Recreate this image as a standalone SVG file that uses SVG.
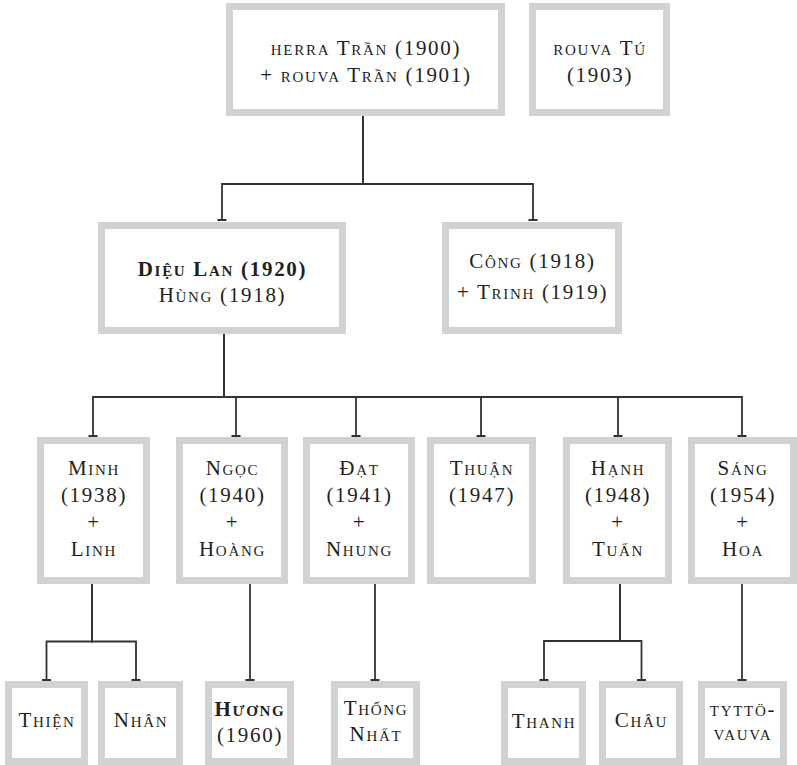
<svg xmlns="http://www.w3.org/2000/svg" width="797" height="765" viewBox="0 0 797 765">
<defs>
<style>
.box{fill:#ffffff;stroke:#d1d2d4;stroke-width:7}
.t{font-family:"Liberation Serif","DejaVu Serif",serif;font-size:21px;font-variant:small-caps;fill:#231f20;text-anchor:middle;letter-spacing:1.7px}
.b{font-weight:bold}
.c{fill:none;stroke:#333333;stroke-width:1.8;marker-end:url(#tee)}
</style>
<marker id="tee" markerUnits="userSpaceOnUse" markerWidth="12" markerHeight="12" viewBox="-6 -6 12 12" refX="0" refY="0" orient="auto" overflow="visible">
<path d="M0,-4.5 V4.5" stroke="#333333" stroke-width="2" fill="none"/>
</marker>
</defs>
<rect width="797" height="765" fill="#ffffff"/>
<g id="connectors">
<path class="c" d="M363,116 V184 H222 V220"/>
<path class="c" d="M363,116 V184 H533 V220"/>
<path class="c" d="M224,334 V397 H93 V436"/>
<path class="c" d="M224,334 V397 H236 V436"/>
<path class="c" d="M224,334 V397 H356 V436"/>
<path class="c" d="M224,334 V397 H481 V436"/>
<path class="c" d="M224,334 V397 H618 V436"/>
<path class="c" d="M224,334 V397 H742 V436"/>
<path class="c" d="M92,584 V641.5 H46.5 V680"/>
<path class="c" d="M92,584 V641.5 H136 V680"/>
<path class="c" d="M250,584 V680"/>
<path class="c" d="M375,584 V680"/>
<path class="c" d="M620,584 V641 H544 V680"/>
<path class="c" d="M620,584 V641 H641.5 V680"/>
<path class="c" d="M742,584 V680"/>
</g>
<g id="n-tran">
<rect class="box" x="229.5" y="6.5" width="272" height="106"/>
<text class="t" x="366" y="55">herra Trần (1900)</text>
<text class="t" x="366" y="82">+ rouva Trần (1901)</text>
</g>
<g id="n-tu">
<rect class="box" x="532.5" y="6.5" width="134" height="106"/>
<text class="t" x="600" y="55">rouva Tú</text>
<text class="t" x="600" y="82">(1903)</text>
</g>
<g id="n-dieulan">
<rect class="box" x="101.5" y="225.5" width="241" height="105"/>
<text class="t b" x="222.5" y="276">Diệu Lan (1920)</text>
<text class="t" x="222.5" y="302">Hùng (1918)</text>
</g>
<g id="n-cong">
<rect class="box" x="445.5" y="225.5" width="173" height="105"/>
<text class="t" x="532.5" y="268">Công (1918)</text>
<text class="t" x="532.5" y="299">+ Trinh (1919)</text>
</g>
<g id="n-minh">
<rect class="box" x="40.5" y="440.5" width="106" height="140"/>
<text class="t" x="94" y="475">Minh</text>
<text class="t" x="94" y="502">(1938)</text>
<text class="t" x="94" y="529">+</text>
<text class="t" x="94" y="556">Linh</text>
</g>
<g id="n-ngoc">
<rect class="box" x="179.5" y="440.5" width="105" height="140"/>
<text class="t" x="232.5" y="475">Ngọc</text>
<text class="t" x="232.5" y="502">(1940)</text>
<text class="t" x="232.5" y="529">+</text>
<text class="t" x="232.5" y="556">Hoàng</text>
</g>
<g id="n-dat">
<rect class="box" x="306.5" y="440.5" width="105" height="140"/>
<text class="t" x="359.5" y="475">Đạt</text>
<text class="t" x="359.5" y="502">(1941)</text>
<text class="t" x="359.5" y="529">+</text>
<text class="t" x="359.5" y="556">Nhung</text>
</g>
<g id="n-thuan">
<rect class="box" x="430.5" y="440.5" width="102" height="140"/>
<text class="t" x="482" y="475">Thuận</text>
<text class="t" x="482" y="502">(1947)</text>
</g>
<g id="n-hanh">
<rect class="box" x="566.5" y="440.5" width="102" height="140"/>
<text class="t" x="618" y="475">Hạnh</text>
<text class="t" x="618" y="502">(1948)</text>
<text class="t" x="618" y="529">+</text>
<text class="t" x="618" y="556">Tuấn</text>
</g>
<g id="n-sang">
<rect class="box" x="691.5" y="440.5" width="102" height="140"/>
<text class="t" x="743" y="475">Sáng</text>
<text class="t" x="743" y="502">(1954)</text>
<text class="t" x="743" y="529">+</text>
<text class="t" x="743" y="556">Hoa</text>
</g>
<g id="n-thien">
<rect class="box" x="8.5" y="684.5" width="76" height="77"/>
<text class="t" x="47" y="727">Thiện</text>
</g>
<g id="n-nhan">
<rect class="box" x="101.5" y="684.5" width="78" height="77"/>
<text class="t" x="141" y="727">Nhân</text>
</g>
<g id="n-huong">
<rect class="box" x="208.5" y="684.5" width="82" height="77"/>
<text class="t b" x="250" y="716">Hương</text>
<text class="t" x="250" y="742">(1960)</text>
</g>
<g id="n-thongnhat">
<rect class="box" x="334.5" y="684.5" width="82" height="77"/>
<text class="t" x="376" y="715">Thống</text>
<text class="t" x="376" y="741">Nhất</text>
</g>
<g id="n-thanh">
<rect class="box" x="504.5" y="684.5" width="78" height="77"/>
<text class="t" x="544" y="728">Thanh</text>
</g>
<g id="n-chau">
<rect class="box" x="602.5" y="684.5" width="77" height="77"/>
<text class="t" x="641.5" y="727">Châu</text>
</g>
<g id="n-baby">
<rect class="box" x="701.5" y="684.5" width="82" height="77"/>
<text class="t" x="743" y="716">tyttö-</text>
<text class="t" x="743" y="740">vauva</text>
</g>
</svg>
